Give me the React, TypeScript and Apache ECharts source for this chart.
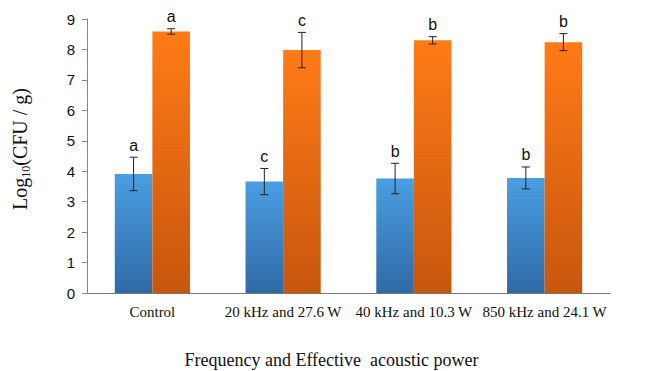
import React, { useEffect, useRef } from "react";
import * as echarts from "echarts";

const categories = ["Control", "20 kHz and 27.6 W", "40 kHz and 10.3 W", "850 kHz and 24.1 W"];
const blueValues = [3.91, 3.66, 3.76, 3.78];
const blueErrors = [0.55, 0.43, 0.5, 0.36];
const blueLetters = ["a", "c", "b", "b"];
const orangeValues = [8.59, 7.98, 8.3, 8.24];
const orangeErrors = [0.09, 0.58, 0.12, 0.28];
const orangeLetters = ["a", "c", "b", "b"];

const CAT_GAP = 0.425;

function errorSeries(values: number[], errors: number[], letters: string[], side: number) {
  return {
    type: "custom",
    silent: true,
    z: 10,
    data: values.map((v, i) => [i, v, errors[i]]),
    renderItem: (params: any, api: any) => {
      const i = api.value(0);
      const v = api.value(1);
      const e = api.value(2);
      const band = api.size([1, 0])[0];
      const bw = (band * (1 - CAT_GAP)) / 2;
      const c = api.coord([i, v]);
      const x = c[0] + side * bw / 2;
      const yTop = api.coord([i, v + e])[1];
      const yBot = api.coord([i, v - e])[1];
      const cap = 4;
      const st = { stroke: "#222", lineWidth: 1 };
      return {
        type: "group",
        children: [
          { type: "line", shape: { x1: x, y1: yTop, x2: x, y2: yBot }, style: st },
          { type: "line", shape: { x1: x - cap, y1: yTop, x2: x + cap, y2: yTop }, style: st },
          { type: "line", shape: { x1: x - cap, y1: yBot, x2: x + cap, y2: yBot }, style: st },
          {
            type: "text",
            style: {
              x: x,
              y: yTop - 4,
              text: letters[i],
              fill: "#111",
              font: "16px 'Liberation Sans', Arial, sans-serif",
              align: "center",
              verticalAlign: "bottom",
            },
          },
        ],
      };
    },
  };
}

export default function App() {
  const ref = useRef<HTMLDivElement>(null);
  useEffect(() => {
    if (!ref.current) return;
    const chart = echarts.init(ref.current, undefined, { renderer: "svg" });
    const grad = (top: string, bottom: string) =>
      new echarts.graphic.LinearGradient(0, 0, 0, 1, [
        { offset: 0, color: top },
        { offset: 1, color: bottom },
      ]);
    chart.setOption({
      animation: false,
      backgroundColor: "#ffffff",
      grid: { left: 87, right: 42, top: 19, bottom: 78, containLabel: false, outerBoundsMode: "none" },
      xAxis: {
        type: "category",
        data: categories,
        axisLine: { lineStyle: { color: "#777", width: 1 } },
        axisTick: { show: false },
        axisLabel: {
          color: "#111",
          fontFamily: "'Liberation Serif', 'Times New Roman', serif",
          fontSize: 15,
          margin: 11,
          interval: 0,
        },
        name: "Frequency and Effective  acoustic power",
        nameLocation: "middle",
        nameGap: 58,
        nameTextStyle: {
          color: "#111",
          fontFamily: "'Liberation Serif', 'Times New Roman', serif",
          fontSize: 18,
          padding: [0, 0, 0, -34],
        },
      },
      yAxis: {
        type: "value",
        min: 0,
        max: 9,
        interval: 1,
        splitLine: { show: false },
        axisLine: { show: true, lineStyle: { color: "#888", width: 1 } },
        axisTick: { show: true, length: 5, lineStyle: { color: "#888" } },
        axisLabel: {
          color: "#111",
          fontFamily: "'Liberation Sans', Arial, sans-serif",
          fontSize: 15,
          margin: 12,
        },
        name: "{m|Log}{s|10}{m|(CFU / g)}",
        nameLocation: "middle",
        nameGap: 55,
        nameRotate: 90,
        nameTextStyle: {
          padding: [0, 0, 0, 14],
          rich: {
            m: {
              fontFamily: "'Liberation Serif', 'Times New Roman', serif",
              fontSize: 20,
              color: "#111",
              lineHeight: 24,
            },
            s: {
              fontFamily: "'Liberation Serif', 'Times New Roman', serif",
              fontSize: 12,
              color: "#111",
              lineHeight: 24,
              verticalAlign: "bottom",
              padding: [8, 0, 0, 0],
            },
          },
        },
      },
      series: [
        {
          type: "bar",
          data: blueValues,
          barGap: "0%",
          barCategoryGap: CAT_GAP * 100 + "%",
          itemStyle: { color: grad("#4a9ee2", "#2f6aa6") },
        },
        {
          type: "bar",
          data: orangeValues,
          barGap: "0%",
          barCategoryGap: CAT_GAP * 100 + "%",
          itemStyle: { color: grad("#ff7b17", "#c7560d") },
        },
        errorSeries(blueValues, blueErrors, blueLetters, -1),
        errorSeries(orangeValues, orangeErrors, orangeLetters, 1),
      ],
    });
    return () => chart.dispose();
  }, []);
  return <div ref={ref} style={{ width: 652, height: 371, position: "absolute", left: 0, top: 0 }} />;
}
